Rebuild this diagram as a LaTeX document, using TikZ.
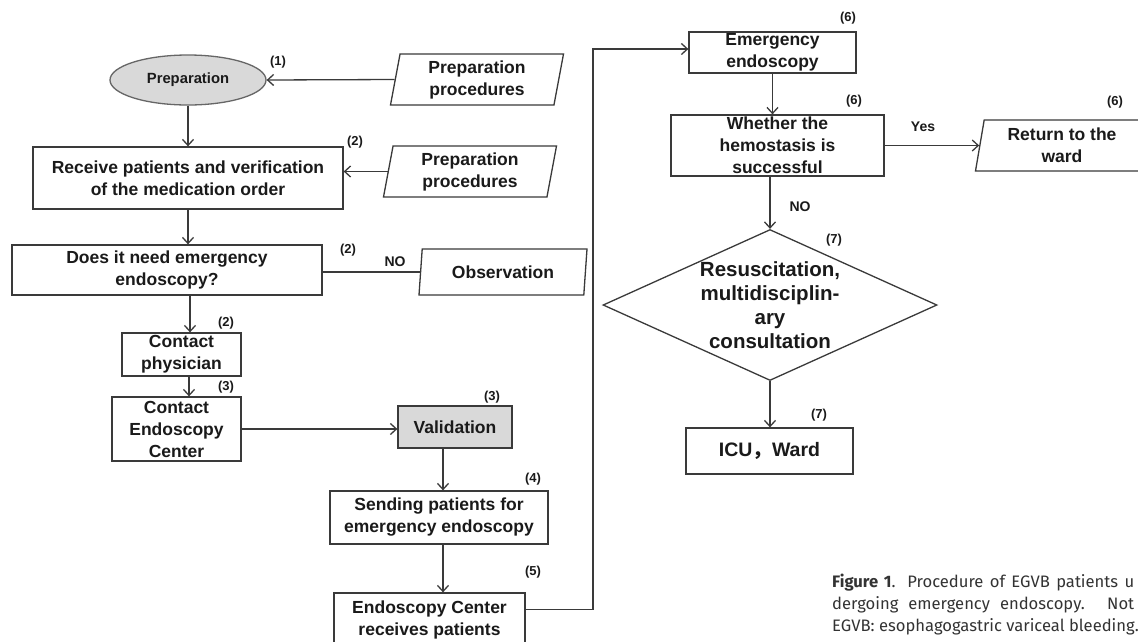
\documentclass[tikz,border=0pt]{standalone}
\usepackage{fontspec}
\setmainfont{Liberation Sans}
\newfontfamily\capfont{Fira Sans}
\newfontfamily\cjkfont{Noto Sans CJK SC}
\usetikzlibrary{shapes.geometric,arrows.meta}
\definecolor{lncol}{HTML}{3A3A3A}
\definecolor{fillg}{HTML}{D9D9D9}
\definecolor{txtcol}{HTML}{1A1A1A}
\definecolor{capcol}{HTML}{333333}
\tikzset{
  base/.style={draw=lncol, line width=1.3pt, inner sep=0pt, align=center, text=txtcol,
    font=\bfseries\fontsize{17.5}{22}\selectfont},
  box/.style={base, rectangle},
  para/.style={base, trapezium, trapezium left angle=76, trapezium right angle=104,
    trapezium stretches body},
  arr/.style={draw=lncol, line width=1.3pt, -{Straight Barb[length=6pt,width=11pt]}},
  conn/.style={draw=lncol, line width=1.3pt},
  num/.style={font=\bfseries\fontsize{13}{15}\selectfont, inner sep=0pt, text=txtcol},
  lab/.style={font=\bfseries\fontsize{14}{16}\selectfont, inner sep=0pt, text=txtcol},
  captxt/.style={anchor=west, inner sep=0pt, text=capcol, font=\capfont\fontsize{16.6}{22}\selectfont}
}
\begin{document}
\begin{tikzpicture}[x=1pt,y=-1pt]
\useasboundingbox (0,0) rectangle (1138,641);
\fill[white] (0,0) rectangle (1138,641);

% nodes
\node[base, ellipse, fill=fillg, draw=black!60, minimum width=156, minimum height=50,
  font=\bfseries\fontsize{14.8}{17}\selectfont] (prep) at (188,80) {Preparation};
\node[para, minimum width=173, minimum height=51] (pp1) at (477,79.5) {Preparation\\procedures};
\node[box, minimum width=310, minimum height=62] (recv) at (188,178) {Receive patients and verification\\of the medication order};
\node[para, minimum width=173, minimum height=51] (pp2) at (470,171.5) {Preparation\\procedures};
\node[box, minimum width=310, minimum height=50] (does) at (167,270) {Does it need emergency\\endoscopy?};
\node[para, minimum width=168, minimum height=46] (obs) at (503,272) {Observation};
\node[box, minimum width=119, minimum height=43] (cp) at (181.5,354.5) {Contact\\physician};
\node[box, minimum width=129, minimum height=64] (cec) at (176.5,429) {Contact\\Endoscopy\\Center};
\node[box, fill=fillg, minimum width=114, minimum height=42] (val) at (455,427) {Validation};
\node[box, minimum width=218, minimum height=53] (send) at (439,517.5) {Sending patients for\\emergency endoscopy};
\node[box, minimum width=191, minimum height=53] (ecr) at (429.5,619.5) {Endoscopy Center\\receives patients};
\node[box, minimum width=167, minimum height=41] (ee) at (772.5,52.5) {Emergency\\endoscopy};
\node[box, minimum width=213, minimum height=61] (wh) at (777.5,145.5) {Whether the\\hemostasis is\\successful};
\node[para, minimum width=173, minimum height=51] (ret) at (1062,145.5) {Return to the\\ward};
\node[base, diamond, minimum width=334, minimum height=151] (dia) at (770,305) {};
\node[align=center, inner sep=0pt, text=txtcol, font=\bfseries\fontsize{20.5}{24}\selectfont] (diatext) at (dia) {Resuscitation,\\multidisciplin-\\ary\\consultation};
\node[box, minimum width=167, minimum height=46, font=\bfseries\fontsize{19.5}{22}\selectfont] (icu) at (769.5,451) {ICU{\cjkfont ，}Ward};

% connectors
\draw[arr] (pp1.left side) -- (prep.east);
\draw[arr] (prep.south) -- (prep.south |- recv.north);
\draw[arr] (pp2.left side) -- (pp2.left side -| recv.east);
\draw[arr] (recv.south) -- (recv.south |- does.north);
\draw[conn] (obs.left side -| does.east) -- (obs.left side);
\draw[arr] ([xshift=8.5pt]cp.north |- does.south) -- ([xshift=8.5pt]cp.north);
\draw[arr] ([xshift=7.5pt]cp.south) -- ([xshift=7.5pt]cp.south |- cec.north);
\draw[arr] (cec.east) -- (cec.east -| val.west);
\draw[arr] ([xshift=4pt]send.north |- val.south) -- ([xshift=4pt]send.north);
\draw[arr] ([xshift=4pt]send.south) -- ([xshift=4pt]send.south |- ecr.north);
\coordinate (bend) at (593,49);
\draw[arr] ([yshift=10pt]ecr.east) -| (bend) -- (bend -| ee.west);
\draw[arr] (ee.south) -- (ee.south |- wh.north);
\draw[arr] (wh.east) -- (ret.left side);
\draw[arr] (dia.north |- wh.south) -- (dia.north);
\draw[arr] (dia.south) -- (dia.south |- icu.north);

% labels
\node[lab] (no1) at (395,262) {NO};
\node[lab] (no2) at (800,207) {NO};
\node[lab] (yes) at (923,127) {Yes};
\node[num] (n1) at (278,62) {(1)};
\node[num] (n2a) at (355,142) {(2)};
\node[num] (n2b) at (348,250) {(2)};
\node[num] (n2c) at (226,323) {(2)};
\node[num] (n3a) at (226,387) {(3)};
\node[num] (n3b) at (492,397) {(3)};
\node[num] (n4) at (533,479) {(4)};
\node[num] (n5) at (533,572) {(5)};
\node[num] (n6a) at (848,18) {(6)};
\node[num] (n6b) at (854,101) {(6)};
\node[num] (n6c) at (1115,102) {(6)};
\node[num] (n7a) at (834,240) {(7)};
\node[num] (n7b) at (819,415) {(7)};

% caption (cut at the right edge as in the reference)
\node[captxt] (cap1) at (832,583) {\makebox[302pt][s]{\textbf{Figure 1}. Procedure of EGVB patients u}};
\node[captxt] (cap2) at (832,605) {\makebox[302pt][s]{dergoing emergency endoscopy. Not}};
\node[captxt] (cap3) at (832,627) {EGVB: esophagogastric variceal bleeding.};
\end{tikzpicture}
\end{document}
